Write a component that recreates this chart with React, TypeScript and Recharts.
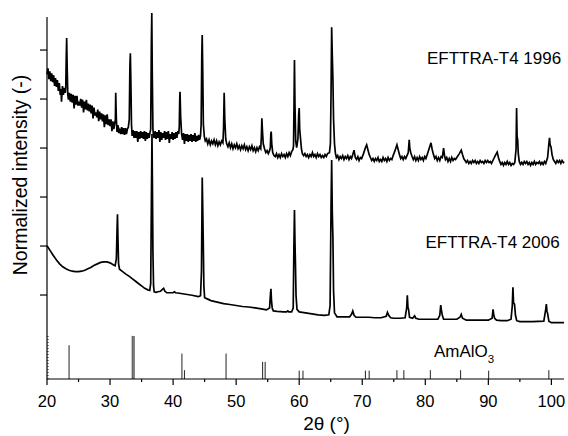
import React from "react";
import { LineChart, Line, XAxis, YAxis, ReferenceLine } from "recharts";

// EFTTRA-T4 1996 scan: [2theta, normalized intensity (offset)]
const scan1996: [number, number][] = [
  [20.0, 6.22], [20.15, 6.34], [20.3, 6.12], [20.45, 6.28], [20.6, 6.08], [20.75, 6.24],
  [20.9, 6.06], [21.05, 6.2], [21.2, 5.98], [21.35, 6.14], [21.5, 5.96], [21.65, 6.1],
  [21.8, 5.88], [21.95, 6.04], [22.1, 5.8], [22.2, 5.92], [22.3, 5.66], [22.45, 5.98],
  [22.6, 5.8], [22.75, 5.94], [22.9, 5.84], [22.98, 5.95], [23.05, 6.55],
  [23.12, 6.96], [23.2, 6.35], [23.3, 5.8], [23.4, 5.7], [23.55, 5.84], [23.7, 5.66],
  [23.85, 5.82], [24.0, 5.64], [24.15, 5.8], [24.3, 5.52], [24.45, 5.78], [24.6, 5.6],
  [24.75, 5.78], [24.9, 5.58], [25.05, 5.66], [25.2, 5.58], [25.35, 5.72], [25.5, 5.54],
  [25.65, 5.7], [25.8, 5.44], [25.95, 5.66], [26.1, 5.5], [26.25, 5.7], [26.4, 5.48],
  [26.55, 5.62], [26.7, 5.46], [26.85, 5.6], [27.0, 5.42], [27.15, 5.58], [27.3, 5.32],
  [27.45, 5.54], [27.6, 5.38], [27.75, 5.44], [27.9, 5.34], [28.05, 5.5], [28.2, 5.26],
  [28.35, 5.46], [28.5, 5.3], [28.65, 5.42], [28.8, 5.26], [28.95, 5.4], [29.1, 5.14],
  [29.25, 5.38], [29.4, 5.2], [29.55, 5.4], [29.7, 5.18], [29.85, 5.3], [30.0, 5.16],
  [30.15, 5.3], [30.3, 5.06], [30.45, 5.26], [30.6, 5.1], [30.75, 5.22], [30.85, 5.3],
  [30.9, 5.84], [31.0, 5.3], [31.1, 5.04], [31.25, 5.18], [31.4, 5.02], [31.55, 5.08],
  [31.7, 5.0], [31.85, 5.14], [32.0, 5.0], [32.15, 5.12], [32.3, 4.98], [32.45, 5.12],
  [32.6, 5.0], [32.75, 5.1], [32.9, 5.14], [33.05, 5.3], [33.15, 6.4], [33.22, 6.65],
  [33.3, 6.1], [33.4, 5.2], [33.5, 4.96], [33.65, 5.08], [33.8, 4.92], [33.95, 5.06],
  [34.1, 4.92], [34.25, 5.06], [34.4, 4.84], [34.55, 5.04], [34.7, 4.9], [34.85, 5.06],
  [35.0, 4.92], [35.15, 5.04], [35.3, 4.9], [35.45, 5.06], [35.6, 4.86], [35.75, 5.04],
  [35.9, 4.9], [36.05, 5.02], [36.2, 4.92], [36.35, 5.04], [36.45, 5.1], [36.55, 6.8],
  [36.62, 7.47], [36.7, 6.2], [36.8, 5.1], [36.9, 4.96], [37.0, 4.92], [37.15, 5.06],
  [37.3, 4.9], [37.45, 5.04], [37.6, 4.92], [37.75, 5.08], [37.9, 4.84], [38.05, 5.04],
  [38.2, 4.88], [38.35, 5.02], [38.5, 4.92], [38.65, 5.06], [38.8, 4.88], [38.95, 5.04],
  [39.1, 4.9], [39.25, 5.06], [39.4, 4.82], [39.55, 5.0], [39.7, 4.9], [39.85, 5.04],
  [40.0, 4.88], [40.15, 5.02], [40.3, 4.9], [40.45, 5.04], [40.6, 4.92], [40.75, 5.06],
  [40.9, 5.0], [40.98, 5.15], [41.05, 5.7], [41.1, 5.86], [41.2, 5.35], [41.35, 5.0],
  [41.5, 4.88], [41.65, 5.02], [41.8, 4.8], [41.95, 5.0], [42.1, 4.86], [42.25, 5.0],
  [42.4, 4.84], [42.55, 4.98], [42.7, 4.86], [42.85, 5.0], [43.0, 4.84], [43.15, 4.98],
  [43.3, 4.86], [43.45, 5.02], [43.6, 4.84], [43.75, 4.96], [43.9, 4.86], [44.05, 4.98],
  [44.2, 4.88], [44.35, 4.96], [44.45, 5.2], [44.55, 6.6],
  [44.62, 7.02], [44.7, 6.3], [44.8, 5.2], [44.95, 4.95], [45.1, 4.86], [45.3, 4.9],
  [45.5, 4.8], [45.7, 4.88], [45.9, 4.78], [46.1, 4.86], [46.3, 4.8], [46.5, 4.88],
  [46.7, 4.78], [46.9, 4.86], [47.1, 4.76], [47.3, 4.84], [47.5, 4.78], [47.7, 4.86],
  [47.9, 4.82], [48.0, 5.1], [48.1, 5.84], [48.2, 5.3], [48.35, 4.9], [48.5, 4.8],
  [48.7, 4.74], [48.9, 4.82], [49.1, 4.72], [49.3, 4.8], [49.5, 4.7], [49.7, 4.78],
  [49.9, 4.72], [50.1, 4.8], [50.3, 4.7], [50.5, 4.76], [50.7, 4.68], [50.9, 4.76],
  [51.1, 4.7], [51.3, 4.78], [51.5, 4.68], [51.7, 4.74], [51.9, 4.66], [52.1, 4.74],
  [52.3, 4.68], [52.5, 4.76], [52.7, 4.66], [52.9, 4.72], [53.1, 4.64], [53.3, 4.72],
  [53.5, 4.66], [53.7, 4.74], [53.9, 4.7], [54.0, 4.95], [54.08, 5.32], [54.18, 5.05],
  [54.3, 4.8], [54.5, 4.7], [54.7, 4.62], [54.9, 4.66], [55.1, 4.6], [55.3, 4.66],
  [55.42, 4.72], [55.5, 5.0], [55.56, 5.05], [55.65, 4.8], [55.8, 4.62], [56.0, 4.56],
  [56.2, 4.54], [56.4, 4.6], [56.6, 4.52], [56.8, 4.58], [57.0, 4.52], [57.2, 4.6],
  [57.4, 4.54], [57.6, 4.58], [57.8, 4.52], [58.0, 4.6], [58.2, 4.54], [58.4, 4.62],
  [58.6, 4.56], [58.8, 4.64], [59.0, 4.68], [59.1, 4.75], [59.18, 5.6], [59.25, 6.51],
  [59.33, 5.6], [59.45, 4.85], [59.6, 4.72], [59.8, 4.9], [59.92, 5.4], [60.0, 5.53],
  [60.08, 5.1], [60.2, 4.92], [60.35, 4.7], [60.5, 4.6], [60.7, 4.56], [60.9, 4.6],
  [61.1, 4.54], [61.3, 4.58], [61.5, 4.52], [61.7, 4.58], [61.9, 4.54], [62.1, 4.62],
  [62.3, 4.54], [62.5, 4.58], [62.7, 4.52], [62.9, 4.6], [63.1, 4.54], [63.3, 4.58],
  [63.5, 4.52], [63.7, 4.56], [63.9, 4.52], [64.1, 4.58], [64.3, 4.54], [64.5, 4.6],
  [64.8, 4.62], [64.95, 4.8], [65.05, 5.8], [65.15, 7.18], [65.25, 6.6], [65.35, 6.1],
  [65.45, 5.3], [65.6, 4.8], [65.75, 4.6], [65.9, 4.52], [66.1, 4.56], [66.3, 4.48],
  [66.5, 4.54], [66.7, 4.5], [66.9, 4.56], [67.1, 4.48], [67.3, 4.54], [67.5, 4.5],
  [67.7, 4.56], [67.9, 4.48], [68.1, 4.54], [68.3, 4.5], [68.5, 4.58], [68.7, 4.67],
  [68.9, 4.52], [69.1, 4.48], [69.3, 4.54], [69.5, 4.46], [69.7, 4.52], [69.9, 4.5],
  [70.2, 4.6], [70.5, 4.72], [70.7, 4.78], [70.9, 4.68], [71.1, 4.58], [71.3, 4.52],
  [71.5, 4.46], [71.7, 4.5], [71.9, 4.44], [72.1, 4.5], [72.3, 4.46], [72.5, 4.52],
  [72.7, 4.44], [72.9, 4.48], [73.1, 4.44], [73.3, 4.52], [73.5, 4.46], [73.7, 4.5],
  [73.9, 4.44], [74.1, 4.52], [74.3, 4.46], [74.5, 4.5], [74.7, 4.48], [74.9, 4.56],
  [75.2, 4.66], [75.5, 4.78], [75.7, 4.68], [75.9, 4.58], [76.1, 4.5], [76.3, 4.54],
  [76.5, 4.48], [76.7, 4.54], [76.9, 4.5], [77.1, 4.56], [77.3, 4.62], [77.45, 4.88],
  [77.55, 4.7], [77.7, 4.62], [77.9, 4.54], [78.1, 4.48], [78.3, 4.54], [78.5, 4.46],
  [78.7, 4.52], [78.9, 4.46], [79.1, 4.54], [79.3, 4.48], [79.5, 4.52], [79.7, 4.46],
  [79.9, 4.54], [80.1, 4.5], [80.4, 4.62], [80.7, 4.74], [80.9, 4.82], [81.1, 4.68],
  [81.3, 4.58], [81.5, 4.5], [81.7, 4.54], [81.9, 4.46], [82.1, 4.52], [82.3, 4.46],
  [82.5, 4.54], [82.7, 4.52], [82.9, 4.71], [83.05, 4.56], [83.2, 4.48], [83.4, 4.52],
  [83.6, 4.44], [83.8, 4.5], [84.0, 4.44], [84.2, 4.52], [84.4, 4.46], [84.6, 4.5],
  [84.8, 4.48], [85.1, 4.54], [85.4, 4.6], [85.7, 4.67], [85.9, 4.58], [86.1, 4.5],
  [86.3, 4.46], [86.5, 4.42], [86.7, 4.46], [86.9, 4.4], [87.1, 4.44], [87.3, 4.4],
  [87.5, 4.46], [87.7, 4.42], [87.9, 4.46], [88.1, 4.4], [88.3, 4.44], [88.5, 4.4],
  [88.7, 4.46], [88.9, 4.42], [89.1, 4.44], [89.3, 4.4], [89.5, 4.46], [89.7, 4.42],
  [89.9, 4.46], [90.1, 4.42], [90.3, 4.44], [90.5, 4.4], [90.8, 4.48], [91.1, 4.56],
  [91.4, 4.63], [91.6, 4.52], [91.8, 4.44], [92.0, 4.38], [92.2, 4.42], [92.4, 4.36],
  [92.6, 4.42], [92.8, 4.38], [93.0, 4.44], [93.2, 4.38], [93.4, 4.42], [93.6, 4.36],
  [93.8, 4.4], [94.0, 4.38], [94.2, 4.42], [94.4, 4.7], [94.48, 5.53], [94.56, 4.95],
  [94.65, 4.88], [94.75, 4.6], [94.9, 4.44], [95.1, 4.38], [95.3, 4.42], [95.5, 4.38],
  [95.7, 4.44], [95.9, 4.4], [96.1, 4.44], [96.3, 4.38], [96.5, 4.42], [96.7, 4.36],
  [96.9, 4.42], [97.1, 4.38], [97.3, 4.44], [97.5, 4.38], [97.7, 4.42], [97.9, 4.4],
  [98.1, 4.44], [98.3, 4.38], [98.5, 4.42], [98.7, 4.38], [98.9, 4.44], [99.1, 4.4],
  [99.4, 4.52], [99.6, 4.8], [99.7, 4.92], [99.8, 4.78], [99.95, 4.73], [100.1, 4.58],
  [100.3, 4.48], [100.5, 4.44], [100.7, 4.4], [100.9, 4.46], [101.1, 4.42], [101.3, 4.46],
  [101.5, 4.4], [101.7, 4.46], [101.9, 4.42], [102.0, 4.44],
];

// EFTTRA-T4 2006 scan
const scan2006: [number, number][] = [
  [20.0, 2.72], [20.5, 2.62], [21.0, 2.52], [21.5, 2.43], [22.0, 2.35], [22.5, 2.29],
  [23.0, 2.25], [23.5, 2.22], [24.0, 2.2], [24.5, 2.19], [25.0, 2.19], [25.5, 2.2],
  [26.0, 2.22], [26.5, 2.25], [27.0, 2.28], [27.5, 2.32], [28.0, 2.35], [28.5, 2.38],
  [29.0, 2.39], [29.5, 2.39], [30.0, 2.37], [30.5, 2.33], [30.8, 2.31], [31.0, 2.45],
  [31.1, 3.0], [31.18, 3.36], [31.25, 2.9], [31.35, 2.35], [31.5, 2.24], [32.0, 2.19],
  [32.5, 2.14], [33.0, 2.1], [33.5, 2.05], [34.0, 2.0], [34.5, 1.95], [35.0, 1.9],
  [35.5, 1.85], [36.0, 1.82], [36.3, 1.81], [36.45, 1.95], [36.55, 3.5], [36.65, 5.0],
  [36.72, 4.0], [36.8, 2.6], [36.9, 1.9], [37.0, 1.78], [37.3, 1.77], [37.6, 1.78],
  [38.0, 1.79], [38.3, 1.83], [38.5, 1.85], [38.7, 1.79], [39.0, 1.76], [39.5, 1.76],
  [40.0, 1.76], [40.2, 1.78], [40.4, 1.76], [41.0, 1.75], [42.0, 1.73], [43.0, 1.71],
  [44.0, 1.68], [44.35, 1.7], [44.5, 2.2], [44.62, 4.11], [44.7, 3.5], [44.78, 2.84],
  [44.88, 1.9], [45.0, 1.66], [45.5, 1.63], [46.0, 1.6], [47.0, 1.57], [48.0, 1.54],
  [49.0, 1.52], [50.0, 1.5], [51.0, 1.48], [52.0, 1.47], [53.0, 1.45], [54.0, 1.43],
  [54.8, 1.41], [55.3, 1.45], [55.45, 1.75], [55.52, 1.84], [55.6, 1.61], [55.72, 1.45],
  [55.9, 1.39], [56.5, 1.38], [57.5, 1.37], [58.0, 1.37], [58.2, 1.39], [58.35, 1.37],
  [58.8, 1.37], [59.05, 1.45], [59.15, 2.6], [59.25, 3.45], [59.33, 2.8], [59.4, 2.39],
  [59.5, 1.7], [59.65, 1.42], [60.0, 1.37], [61.0, 1.35], [62.0, 1.33], [63.0, 1.31],
  [64.0, 1.3], [64.7, 1.31], [64.9, 1.5], [65.05, 3.5], [65.15, 4.47], [65.25, 3.4],
  [65.35, 2.88], [65.45, 1.8], [65.6, 1.35], [66.0, 1.27], [67.0, 1.27], [68.0, 1.27],
  [68.3, 1.32], [68.5, 1.39], [68.7, 1.3], [69.0, 1.26], [70.0, 1.26], [71.0, 1.26],
  [72.0, 1.25], [73.0, 1.25], [73.8, 1.28], [74.0, 1.36], [74.2, 1.3], [74.5, 1.25],
  [75.0, 1.24], [76.0, 1.24], [76.8, 1.25], [77.05, 1.45], [77.15, 1.71], [77.25, 1.46],
  [77.35, 1.42], [77.5, 1.26], [78.0, 1.24], [78.3, 1.29], [78.5, 1.24], [79.0, 1.22],
  [80.0, 1.22], [81.0, 1.22], [82.0, 1.22], [82.3, 1.3], [82.45, 1.51], [82.55, 1.41],
  [82.7, 1.3], [82.9, 1.22], [84.0, 1.22], [85.0, 1.22], [85.5, 1.26], [85.7, 1.32],
  [85.9, 1.24], [86.5, 1.2], [88.0, 1.2], [90.0, 1.2], [90.6, 1.24], [90.75, 1.42],
  [90.85, 1.31], [91.0, 1.24], [91.3, 1.2], [92.0, 1.19], [93.0, 1.19], [93.6, 1.22],
  [93.8, 1.5], [93.9, 1.87], [94.0, 1.55], [94.15, 1.53], [94.3, 1.3], [94.5, 1.19],
  [95.0, 1.17], [97.0, 1.17], [98.8, 1.18], [99.1, 1.42], [99.2, 1.53], [99.3, 1.38],
  [99.4, 1.34], [99.6, 1.18], [100.0, 1.15], [101.0, 1.15], [102.0, 1.15],
];

// AmAlO3 reference lines: [2theta, relative height]
const amalo3Sticks: [number, number][] = [
  [23.5, 0.69], [41.4, 0.52], [41.8, 0.18], [48.4, 0.52], [54.2, 0.35], [54.6, 0.35],
  [60.0, 0.17], [60.6, 0.17], [70.5, 0.17], [71.1, 0.17], [75.5, 0.18], [76.6, 0.18],
  [80.8, 0.18], [85.6, 0.18], [90.05, 0.17], [99.6, 0.18],
];
const amalo3Strong: [number, number][] = [
  [33.55, 0.88], [33.8, 0.88],
];
const dottedStick: [number, number] = [20.15, 0.9];

const xTicks = [20, 25, 30, 35, 40, 45, 50, 55, 60, 65, 70, 75, 80, 85, 90, 95, 100];
const yTicks = [1.714, 2.714, 3.714, 4.714, 5.714, 6.714];
const yAxisTop = 7.388;

const toRows = (pts: [number, number][]) => pts.map(([t, v]) => ({ t, v }));

const FONT = '"Liberation Sans", Arial, Helvetica, sans-serif';

const XTick = (props: any) => {
  const { x, y, payload } = props;
  const major = payload.value % 10 === 0;
  return (
    <g>
      <line x1={x} x2={x} y1={y} y2={y + (major ? 6 : 3)} stroke="#000" strokeWidth={1.2} />
      {major && (
        <text x={x} y={y + 27.7} textAnchor="middle" fontSize={16.5} fill="#000" fontFamily={FONT}>
          {payload.value}
        </text>
      )}
    </g>
  );
};

export default function App() {
  return (
    <div style={{ position: "absolute", left: 0, top: 0, width: 568, height: 436, background: "#fff", fontFamily: FONT }}>
      <LineChart width={568} height={436} margin={{ top: 13, right: 4, bottom: 0, left: 0 }}>
        <XAxis
          dataKey="t"
          type="number"
          domain={[20, 102]}
          ticks={xTicks}
          interval={0}
          height={57}
          tickSize={0}
          tickMargin={0}
          tickLine={false}
          axisLine={{ stroke: "#000", strokeWidth: 1.2 }}
          tick={<XTick />}
        />
        <YAxis
          type="number"
          domain={[0, 7.47]}
          ticks={yTicks}
          interval={0}
          width={47}
          tickFormatter={() => ""}
          tickSize={7}
          tickLine={{ stroke: "#000", strokeWidth: 1.2 }}
          axisLine={false}
        />
        <ReferenceLine
          segment={[{ x: 20, y: 0 }, { x: 20, y: yAxisTop }]}
          stroke="#000"
          strokeWidth={1.2}
        />
        <ReferenceLine
          segment={[{ x: dottedStick[0], y: 0 }, { x: dottedStick[0], y: dottedStick[1] }]}
          stroke="#000"
          strokeWidth={1}
          strokeDasharray="1 2"
        />
        {amalo3Sticks.map(([t, h]) => (
          <ReferenceLine key={`s${t}`} segment={[{ x: t, y: 0 }, { x: t, y: h }]} stroke="#222" strokeWidth={1} />
        ))}
        {amalo3Strong.map(([t, h]) => (
          <ReferenceLine key={`g${t}`} segment={[{ x: t, y: 0 }, { x: t, y: h }]} stroke="#666" strokeWidth={1.6} />
        ))}
        <Line
          data={toRows(scan2006)}
          dataKey="v"
          type="linear"
          stroke="#000"
          strokeWidth={1.7}
          dot={false}
          isAnimationActive={false}
        />
        <Line
          data={toRows(scan1996)}
          dataKey="v"
          type="linear"
          stroke="#000"
          strokeWidth={1.7}
          dot={false}
          isAnimationActive={false}
        />
      </LineChart>
      <svg width={568} height={436} style={{ position: "absolute", left: 0, top: 0, pointerEvents: "none" }} fontFamily={FONT} fill="#000">
        <text transform="translate(26.5,175) rotate(-90)" textAnchor="middle" fontSize={19.5}>
          Normalized intensity (-)
        </text>
        <text x={427} y={64.3} fontSize={17}>EFTTRA-T4 1996</text>
        <text x={425.5} y={247.7} fontSize={17}>EFTTRA-T4 2006</text>
        <text x={434} y={357.3} fontSize={17}>
          AmAlO<tspan fontSize={11.5} dy={6}>3</tspan>
        </text>
        <text x={326.5} y={430} textAnchor="middle" fontSize={19}>2θ (°)</text>
      </svg>
    </div>
  );
}
